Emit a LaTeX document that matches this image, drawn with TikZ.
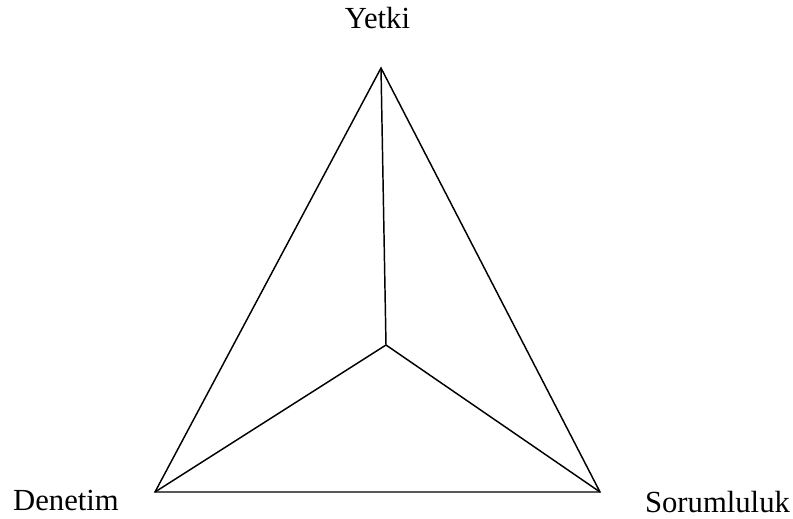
\documentclass[tikz,border=0pt]{standalone}
\usepackage{fontspec}
\setmainfont{Liberation Serif}
\usetikzlibrary{positioning}

\begin{document}
\begin{tikzpicture}[
    x=0.75pt, y=-0.75pt,
    edge/.style={line width=1.1pt, line join=miter},
    label/.style={anchor=base, inner sep=0pt, font=\fontsize{23}{28}\selectfont}
]
    \useasboundingbox (0,0) rectangle (793,518);

    \coordinate (top) at (381,68);
    \coordinate (left) at (155,492);
    \coordinate (right) at (600,492);
    \coordinate (mid) at (386,345);

    \node[label] (yetki) at (377.5,28) {Yetki};
    \node[label] (denetim) at (66,510) {Denetim};
    \node[label] (sorumluluk) at (717.5,512) {Sorumluluk};

    \draw[edge] (top) -- (left) -- (right) -- cycle;
    \draw[edge] (mid) -- (top);
    \draw[edge] (mid) -- (left);
    \draw[edge] (mid) -- (right);
\end{tikzpicture}
\end{document}
